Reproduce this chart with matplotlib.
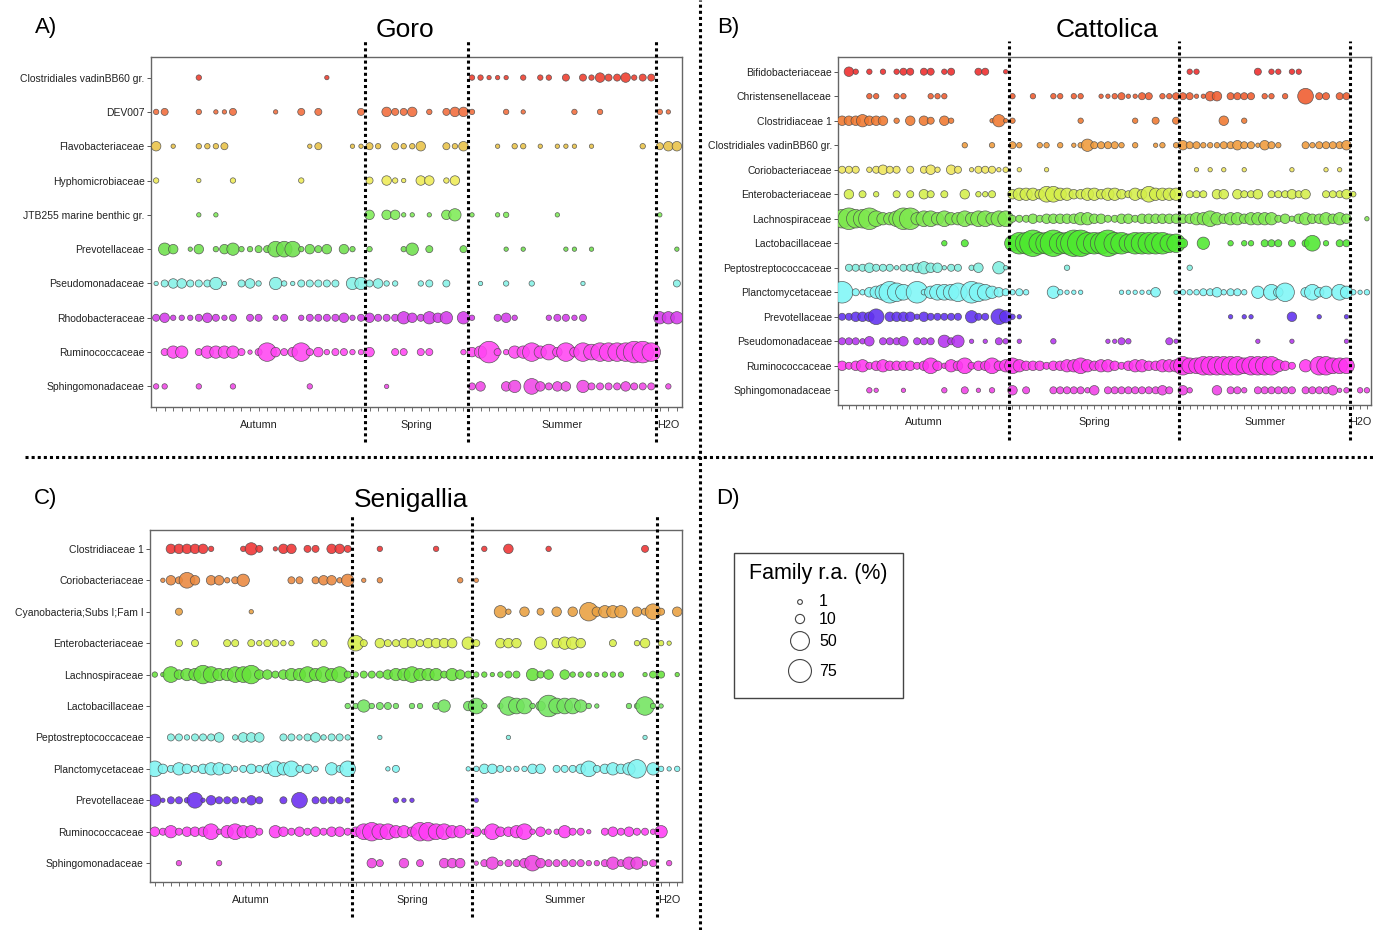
import numpy as np
import matplotlib.pyplot as plt
from matplotlib.lines import Line2D
from matplotlib.patches import Rectangle

plt.rcParams['font.family'] = ['Liberation Sans', 'DejaVu Sans']

W, H = 1376, 930

# abundance class of each bubble ('.' = absent)
level_ra = {'1': 0.5, '2': 2, '3': 5, '4': 11, '5': 20, '6': 34,
            '7': 48, '8': 66, '9': 100}
seasons = ['Autumn', 'Spring', 'Summer', 'H2O']

# --- A) Goro ---
goro_counts = [25, 12, 22, 3]
goro_families = ['Clostridiales vadinBB60 gr.', 'DEV007', 'Flavobacteriaceae',
                 'Hyphomicrobiaceae', 'JTB255 marine benthic gr.', 'Prevotellaceae',
                 'Pseudomonadaceae', 'Rhodobacteraceae', 'Ruminococcaceae',
                 'Sphingomonadaceae']
goro_colors = ['#EE3B2B', '#F26B3A', '#E9C247', '#EEEB55', '#7DEB55', '#6EE04C',
               '#84F2E6', '#D43AEB', '#FF45F2', '#F046E6']
goro_ra = [
    ".....2..............1....|............|22111.2.22.3.324334233|...",
    "23...2.113....1..3.3....3|..4334.2.344|2...2.1.....2..2......|21.",
    "4.1..2223.........13...11|32.3224..324|...1.22.1.111.1.....2.|344",
    "2....1...2.......2.......|3.421.44.24.|......................|...",
    ".....1.1.................|4.4411.1.45.|1..12.....1...........|1..",
    ".54.14.24522336662434.42.|2...25.3...3|....1.1....11.1.......|..1",
    "134433351.342.52133333.55|3422..23.3..|.1..2..2.....1........|..3",
    "3422234323.33.23.23333423|4333543545.5|2..342...23323........|555",
    ".355.35555313743473423322|4..33.33...2|4583255756474767777887|...",
    "22...2...2........2......|..1.........|34..45.64344.533334333|.2.",
]

# --- B) Cattolica ---
catt_counts = [25, 25, 25, 3]
catt_families = ['Bifidobacteriaceae', 'Christensenellaceae', 'Clostridiaceae 1',
                 'Clostridiales vadinBB60 gr.', 'Coriobacteriaceae', 'Enterobacteriaceae',
                 'Lachnospiraceae', 'Lactobacillaceae', 'Peptostreptococcaceae',
                 'Planctomycetaceae', 'Prevotellaceae', 'Pseudomonadaceae',
                 'Ruminococcaceae', 'Sphingomonadaceae']
catt_colors = ['#EE2A2A', '#F05A2C', '#F0782E', '#F09A3A', '#EEE55A', '#D4EE4A',
               '#7EE84E', '#4EE830', '#80EEE0', '#7FF6F6', '#6030F0', '#B432F0',
               '#FF35F0', '#F040E6']
catt_ra = [
    ".42.2.2.233.33.23...33..1|.........................|.22........3.22.22.......|...",
    "....22..22...222.........|2..2..22.22..11231133.223|331144.3333.22.2..6.33.33|...",
    "4445444.2.4.43.42.....151|2.........2.......2..3..3|......4..2...............|...",
    "..................2...2..|32..22.2.12533332.2..12.2|433222334331432...3233334|...",
    "333.23433.3.342.43.133312|.1...1...................|..1.1.1..1......1....1.1.|...",
    ".4.3.2..3.3.43.3..4.223..|4555466554455455435465555|.333.44.4334.333434..3334|2..",
    "7877865568856656556566566|3334344444554433443444444|4455654554555534245445454|..1",
    "...............2..3......|6889889889988898878888877|4..5...2.22.333.3.36.2.33|...",
    ".33343331334544133.24..51|........2................|.2.......................|...",
    "8.32456876.8256667.876543|232...52111.....111114..1|2223342332.5.647..4645.65|212",
    "334446.44442433333.533.65|21.......................|.......1.11.....4...1...1|...",
    "33324.3334.333.535.1.1.32|.1....2.......1132.....31|...........1....1.......1|...",
    "4345345444434642546344645|6544434455654554345544555|76677777767777543.5.77666|...",
    "....21...1.....2..3.1.2..|4.3...3333324.3333333343.|42...4.332.333333.3333412|.22",
]

# --- C) Senigallia ---
seni_counts = [25, 15, 23, 3]
seni_families = ['Clostridiaceae 1', 'Coriobacteriaceae', 'Cyanobacteria;Subs I;Fam I',
                 'Enterobacteriaceae', 'Lachnospiraceae', 'Lactobacillaceae',
                 'Peptostreptococcaceae', 'Planctomycetaceae', 'Prevotellaceae',
                 'Ruminococcaceae', 'Sphingomonadaceae']
seni_colors = ['#F03232', '#EA883E', '#E9A040', '#D8EE46', '#66E23A', '#72E45E',
               '#82F0E2', '#80F4F2', '#6A2CF0', '#FF3CF5', '#EE42E2']
seni_ra = [
    "..444442...253.144.33.443|...2......2....|.2..4....2...........3.|...",
    ".14364.44235.....33.34425|.1.2.........2.|1......................|...",
    "...3........1............|...............|...52.4.3.4.4.74555.436|3.4",
    "...3.3...33.323322..33...|63.4334434444.5|3..444..5.4554...3..24.|21.",
    "2164557655667443455656563|233345565553543|221233.534.42221222..13|3.1",
    "........................2|252332.22.35..4|62.2766248666521...2272|1..",
    "..3323334.2444..332342332|...1...........|....1................1.|...",
    "643543455423434656342.536|....13........1|244322244.33346345457.5|212",
    "51332614333243..3.6.33332|.....211.......|1......................|...",
    "43534446256553.5434343443|467665547766552|426445624225331.3434332|5..",
    "...2....2................|..43..4.3..444.|13523346433333223535523|.2.",
]

legend_values = [1, 10, 50, 75]


def bubble_size(ra):
    # diameter in px grows with sqrt of abundance, converted to points^2
    d_px = np.sqrt(16 + 6.8 * np.asarray(ra, dtype=float))
    return (d_px * 72 / 100) ** 2


def px_rect(left, top, right, bottom):
    return [left / W, 1 - bottom / H, (right - left) / W, (bottom - top) / H]


def dotted(x, y, **kw):
    return Line2D(x, y, color='black', lw=2.2, dashes=(1, 1), **kw)


def draw_panel(rect, families, colors, rows, counts):
    ax = fig.add_axes(rect)
    n = sum(counts)
    nrow = len(families)
    for k, (col, row) in enumerate(zip(colors, rows)):
        segs = row.split('|')
        codes = ''.join(s.ljust(c, '.')[:c] for s, c in zip(segs, counts))
        xs = [i for i, c in enumerate(codes) if c != '.']
        vals = [level_ra[c] for c in codes if c != '.']
        ax.scatter(xs, [nrow - 1 - k] * len(xs), s=bubble_size(vals), color=col,
                   edgecolors='#4a4a4a', linewidths=0.5, alpha=0.88, zorder=3)

    ax.set_xlim(-0.6, n - 0.4)
    ax.set_ylim(-0.6, nrow - 0.4)
    ax.set_yticks(range(nrow))
    ax.set_yticklabels(families[::-1])
    ax.set_xticks(range(n))
    ax.set_xticklabels([])
    ax.tick_params(axis='y', length=3, width=0.7, color='#555555', pad=1.5,
                   labelsize=7.5, labelcolor='#222222')
    ax.tick_params(axis='x', length=3, width=0.6, color='#555555')
    for sp in ax.spines.values():
        sp.set_color('#666666')
        sp.set_linewidth(1.0)

    starts = np.concatenate([[0], np.cumsum(counts)[:-1]])
    trans = ax.get_xaxis_transform()
    for st, c, name in zip(starts, counts, seasons):
        ax.text(st + (c - 1) / 2, -0.05, name, transform=trans, ha='center',
                va='center', fontsize=7.8, color='#222222')
    for b in np.cumsum(counts)[:-1] - 0.5:
        ax.add_line(dotted([b, b], [-0.1, 1.045], transform=trans,
                           clip_on=False, zorder=5))
    return ax


fig = plt.figure(figsize=(W / 100, H / 100), dpi=100)

draw_panel(px_rect(151, 57, 682, 407), goro_families, goro_colors, goro_ra, goro_counts)
draw_panel(px_rect(838, 57, 1371, 405), catt_families, catt_colors, catt_ra, catt_counts)
draw_panel(px_rect(150, 530, 682, 882), seni_families, seni_colors, seni_ra, seni_counts)

# titles and panel letters
for txt, x, y in [('Goro', 405, 30), ('Cattolica', 1107, 30), ('Senigallia', 411, 500)]:
    fig.text(x / W, 1 - y / H, txt, ha='center', va='center', fontsize=19)
for txt, x, y in [('A)', 46, 27), ('B)', 728, 27), ('C)', 46, 498), ('D)', 728, 498)]:
    fig.text(x / W, 1 - y / H, txt, ha='center', va='center', fontsize=16)

# quadrant separators
fig.add_artist(dotted([700 / W, 700 / W], [0, 1], transform=fig.transFigure))
fig.add_artist(dotted([25 / W, 1373 / W], [1 - 457 / H, 1 - 457 / H],
                      transform=fig.transFigure))

# D) size legend
lax = fig.add_axes(px_rect(733, 552, 903, 698))
lax.set_xlim(0, 170)
lax.set_ylim(146, 0)
lax.axis('off')
lax.add_patch(Rectangle((0.5, 0.5), 169, 145, fill=False, ec='#444444', lw=1.0,
                        clip_on=False))
lax.text(85, 22, 'Family r.a. (%)', ha='center', va='center', fontsize=15.5)
leg_y = [50, 67, 89, 119]
lax.scatter([67] * len(legend_values), leg_y, s=bubble_size(legend_values),
            facecolors='white', edgecolors='#444444', linewidths=0.8)
for v, y in zip(legend_values, leg_y):
    lax.text(86, y, str(v), ha='left', va='center', fontsize=11.5)

fig.savefig('out.png', dpi=100)
